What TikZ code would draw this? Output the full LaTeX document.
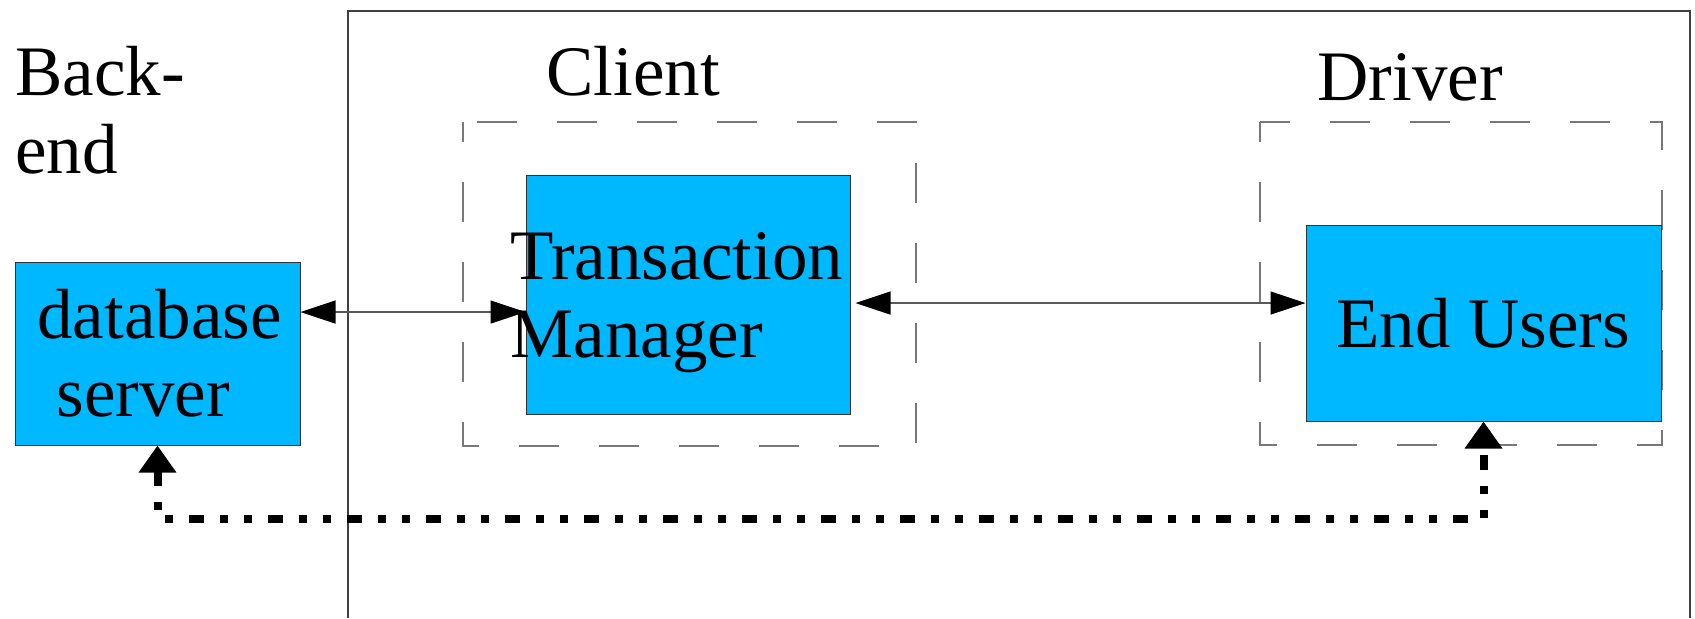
\documentclass[tikz,border=0pt]{standalone}
\usepackage{fontspec}
\setmainfont{Liberation Serif}
\usetikzlibrary{calc,arrows.meta,positioning}
\definecolor{boxblue}{RGB}{0,184,255}
\definecolor{dashgray}{RGB}{120,120,120}

\tikzset{
  bluebox/.style={draw=black!80, line width=0.5pt, fill=boxblue, inner sep=0pt},
  outerframe/.style={draw=black!75, line width=0.6pt},
  groupbox/.style={draw=dashgray, line width=0.7pt, dash pattern=on 20pt off 20pt, dash phase=10pt},
  txt/.style={anchor=base west, inner sep=0pt, font=\fontsize{35.5}{39}\selectfont},
  link/.style={draw=black!65, line width=0.6pt,
    {Triangle[length=17.5pt,width=11.5pt,black]}-{Triangle[length=17.5pt,width=11.5pt,black]}},
  feedback/.style={line width=4pt,
    dash pattern=on 7.5pt off 8pt on 4pt off 8pt on 4pt off 8pt,
    {Triangle[length=13.5pt,width=18pt]}-{Triangle[length=13.5pt,width=18pt]}},
}

\begin{document}
\begin{tikzpicture}[x=0.5pt, y=-0.5pt]
    \useasboundingbox (0,0) rectangle (1695,618);
    % frame round client and driver
    \draw[outerframe] (348,618) -- (348,11) -- (1690,11) -- (1690,618);
    \draw[groupbox] (463,122) rectangle (916,446);
    \draw[groupbox] (1260,122) rectangle (1662,445);

    % boxes
    \node[bluebox, minimum width=142.5pt, minimum height=91.5pt] (db) at (157.5,353.5) {};
    \node[bluebox, minimum width=162pt, minimum height=119.5pt] (tm) at (688,294.5) {};
    \node[bluebox, minimum width=177.5pt, minimum height=98pt] (eu) at (1483.5,323) {};

    % texts
    \node[txt] (backend1) at (15,95) {Back-};
    \node[txt] (backend2) at (15,173) {end};
    \node[txt] (client) at (546,95) {Client};
    \node[txt] (driver) at (1317,100) {Driver};
    \node[txt] (db1) at (37,338) {database};
    \node[txt] (db2) at (56,416) {server};
    \node[txt] (tm1) at (510,279) {Transaction};
    \node[txt] (tm2) at (510,357) {Manager};
    \node[txt] (eu1) at (1336,347) {End Users};

    % connectors
    \coordinate (y1) at (0,312);
    \coordinate (y2) at (0,303);
    \draw[link] (db.east |- y1) -- (tm.west |- y1);
    \draw[link, shorten <=2.5pt] (tm.east |- y2) -- (eu.west |- y2);
    \draw[feedback] (db.south) -- ++(0,73) -| (eu.south);
\end{tikzpicture}
\end{document}
